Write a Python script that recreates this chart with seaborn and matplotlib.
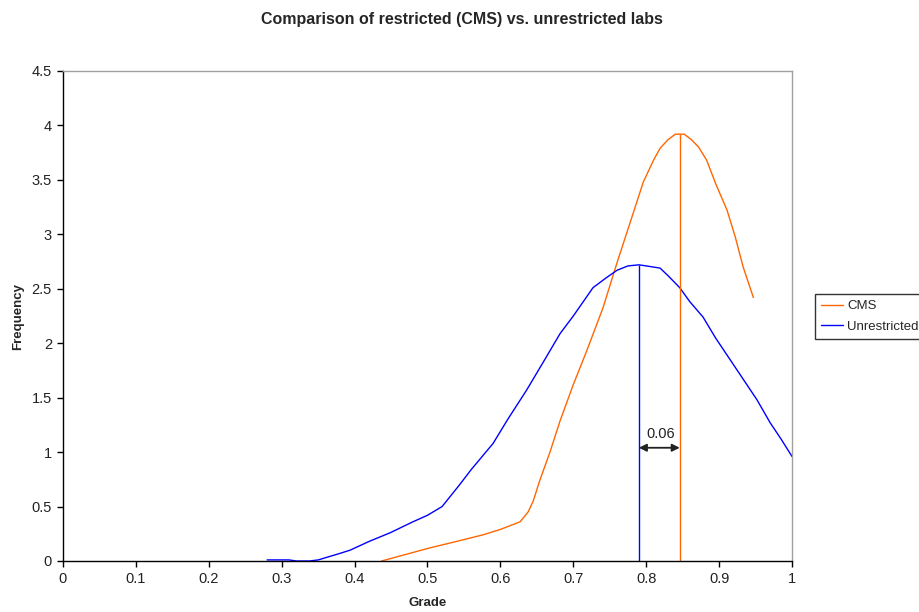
import numpy as np
import pandas as pd
import matplotlib
matplotlib.use("Agg")
import matplotlib.pyplot as plt
import seaborn as sns

# data

grade_unres = [0.28, 0.31, 0.32, 0.338, 0.35, 0.36, 0.38, 0.394, 0.42, 0.449,
               0.48, 0.50, 0.52, 0.544, 0.56, 0.59, 0.61, 0.636, 0.66, 0.682,
               0.70, 0.727, 0.745, 0.76, 0.775, 0.79, 0.80, 0.819, 0.83, 0.846,
               0.86, 0.878, 0.895, 0.915, 0.935, 0.952, 0.97, 0.985, 1.0]
freq_unres = [0.01, 0.01, 0.0, 0.0, 0.01, 0.03, 0.07, 0.10, 0.18, 0.26,
              0.36, 0.42, 0.50, 0.70, 0.84, 1.08, 1.30, 1.57, 1.84, 2.09,
              2.25, 2.51, 2.60, 2.67, 2.71, 2.72, 2.71, 2.69, 2.62, 2.51,
              2.38, 2.24, 2.05, 1.85, 1.65, 1.48, 1.27, 1.12, 0.96]

grade_cms = [0.437, 0.47, 0.503, 0.54, 0.576, 0.60, 0.627, 0.638, 0.645, 0.654,
             0.668, 0.682, 0.70, 0.719, 0.741, 0.76, 0.78, 0.796, 0.81, 0.819,
             0.83, 0.84, 0.852, 0.862, 0.872, 0.883, 0.895, 0.911, 0.922, 0.933,
             0.947]
freq_cms = [0.0, 0.06, 0.12, 0.18, 0.24, 0.29, 0.36, 0.45, 0.55, 0.74,
            1.00, 1.29, 1.62, 1.94, 2.33, 2.74, 3.15, 3.48, 3.68, 3.79,
            3.87, 3.92, 3.92, 3.87, 3.80, 3.68, 3.47, 3.22, 2.98, 2.70,
            2.42]

# peak markers (mean lines) and the difference between them
peak_x = {"CMS": 0.846, "Unrestricted": 0.79}
peak_y = {"CMS": 3.92, "Unrestricted": 2.72}
diff_label = "0.06"
arrow_y = 1.04

colors = {"CMS": "#FF6600", "Unrestricted": "#0000FF"}

df = pd.concat([
    pd.DataFrame({"Grade": grade_cms, "Frequency": freq_cms, "Lab": "CMS"}),
    pd.DataFrame({"Grade": grade_unres, "Frequency": freq_unres, "Lab": "Unrestricted"}),
])

sns.set_theme(style="white")
plt.rcParams["font.family"] = ["Liberation Sans", "DejaVu Sans"]

fig = plt.figure(figsize=(9.2, 6.12), dpi=100)
ax = fig.add_axes([63 / 920, 1 - 561 / 612, 729 / 920, 490 / 612])

sns.lineplot(data=df, x="Grade", y="Frequency", hue="Lab", palette=colors,
             linewidth=1, ax=ax, legend=True)

# vertical lines at the peaks
for lab in ["Unrestricted", "CMS"]:
    ax.vlines(peak_x[lab], 0, peak_y[lab], color=colors[lab], linewidth=1)

# double arrow showing the gap
ax.annotate("", xy=(peak_x["Unrestricted"], arrow_y), xytext=(peak_x["CMS"], arrow_y),
            arrowprops=dict(arrowstyle="<|-|>", color="#222222", lw=1.3,
                            shrinkA=0, shrinkB=0, mutation_scale=11))
ax.text((peak_x["Unrestricted"] + peak_x["CMS"]) / 2 + 0.002, arrow_y + 0.06, diff_label,
        ha="center", va="bottom", fontsize=10.5, color="#222222")

ax.set_xlim(0, 1)
ax.set_ylim(0, 4.5)
ax.set_xticks(np.arange(0, 1.01, 0.1))
ax.set_xticklabels(["0", "0.1", "0.2", "0.3", "0.4", "0.5", "0.6", "0.7", "0.8", "0.9", "1"])
ax.set_yticks(np.arange(0, 4.51, 0.5))
ax.set_yticklabels(["0", "0.5", "1", "1.5", "2", "2.5", "3", "3.5", "4", "4.5"])
ax.tick_params(axis="both", direction="out", length=4, width=1, color="black",
               labelsize=10.5, labelcolor="#222222", pad=4, bottom=True, left=True)

for side in ["left", "bottom"]:
    ax.spines[side].set_color("black")
    ax.spines[side].set_linewidth(1)
for side in ["top", "right"]:
    ax.spines[side].set_color("#A0A0A0")
    ax.spines[side].set_linewidth(1)

ax.set_xlabel("Grade", fontsize=9.5, fontweight="bold")
ax.set_ylabel("Frequency", fontsize=9.5, fontweight="bold")
ax.xaxis.set_label_coords(0.5, (561 - 597) / 490)
ax.yaxis.set_label_coords((24 - 63) / 729, 0.5)

fig.suptitle("Comparison of restricted (CMS) vs. unrestricted labs",
             x=462 / 920, y=1 - 12 / 612, va="top", fontsize=11.5, fontweight="bold")

handles, labels = ax.get_legend_handles_labels()
leg = ax.legend(handles, labels, loc="upper left", bbox_to_anchor=(815 / 920, 1 - 294 / 612),
                bbox_transform=fig.transFigure, frameon=True, fancybox=False,
                fontsize=9.5, handlelength=1.7, borderpad=0.45, labelspacing=0.65,
                handletextpad=0.3, borderaxespad=0)
leg.get_frame().set_edgecolor("black")
leg.get_frame().set_linewidth(1)

fig.savefig("out.png", dpi=100)
